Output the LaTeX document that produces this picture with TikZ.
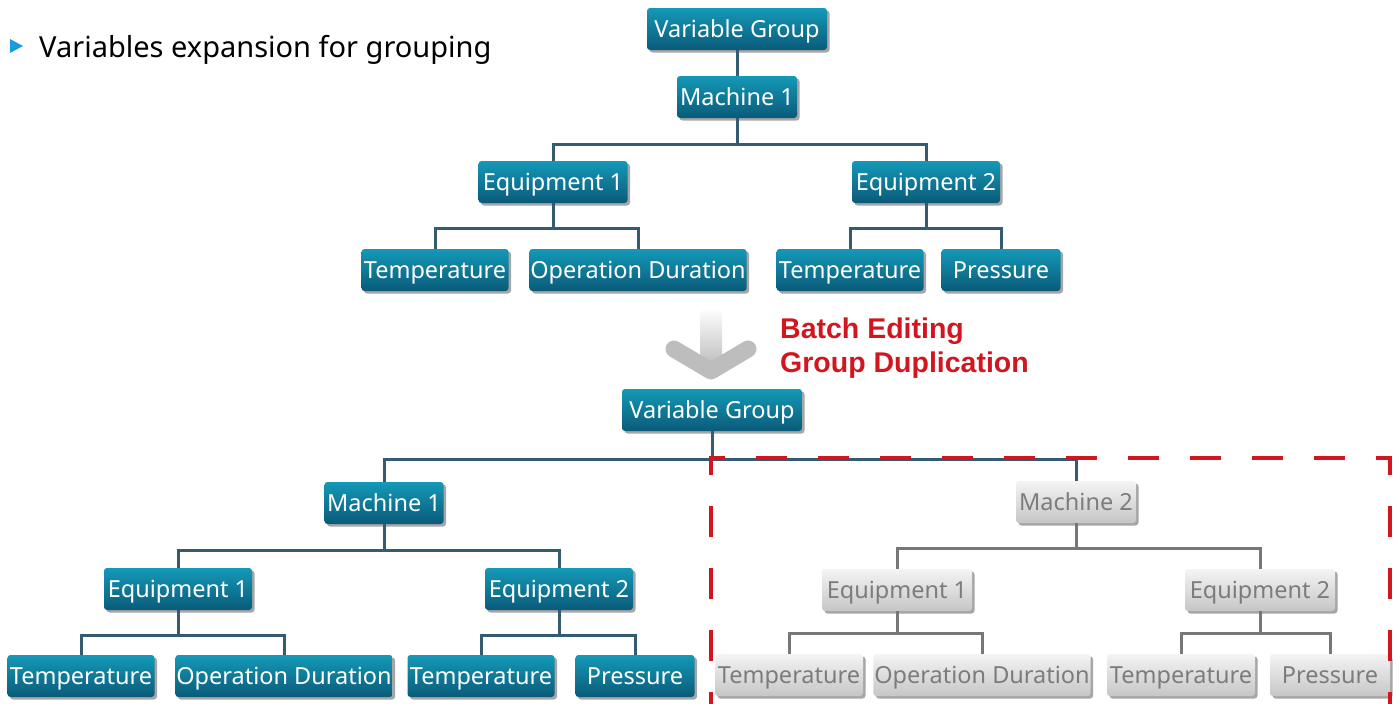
\documentclass[tikz,border=0pt]{standalone}
\usepackage{fontspec}
\setmainfont{Noto Sans}
\newfontfamily\redfont{Liberation Sans}
\usetikzlibrary{shadows}
\definecolor{boxtop}{HTML}{1499B7}
\definecolor{boxbot}{HTML}{0A5A79}
\definecolor{linec}{HTML}{355C6E}
\definecolor{greytop}{HTML}{F4F4F4}
\definecolor{greybot}{HTML}{C6C6C6}
\definecolor{greytext}{HTML}{7C7C7C}
\definecolor{greyline}{HTML}{777777}
\definecolor{redc}{HTML}{D2161F}
\definecolor{bulletc}{HTML}{1A9BE0}
\definecolor{arrowc}{HTML}{BDBDBD}
\tikzset{
  bbox/.style={rectangle, rounded corners=3pt, top color=boxtop, bottom color=boxbot,
    text=white, font=\fontsize{23.5}{27}\selectfont, minimum height=42pt, inner xsep=1pt, inner ysep=0pt,
    text height=21pt, text depth=4.5pt,
    drop shadow={shadow xshift=2.5pt, shadow yshift=-2.5pt, opacity=0.35, fill=black}},
  gbox/.style={bbox, top color=greytop, bottom color=greybot, text=greytext},
  conn/.style={draw=linec, line width=3pt},
  gconn/.style={draw=greyline, line width=3pt},
}
\begin{document}
\begin{tikzpicture}[x=1pt,y=-1pt]
\useasboundingbox (0,0) rectangle (1400,704);
% bullet
\fill[bulletc] (10,39) -- (23,46) -- (10,53) -- cycle;
\node[anchor=base west, inner sep=0pt, font=\fontsize{29}{34}\selectfont] (bullet) at (39,57) {Variables expansion for grouping};
% top tree
\node[bbox, minimum width=180pt] (vg1) at (737,29) {Variable Group};
\node[bbox, minimum width=120pt] (m1) at (737,97) {Machine 1};
\node[bbox, minimum width=149pt] (e1) at (553,182) {Equipment 1};
\node[bbox, minimum width=148pt] (e2) at (926,182) {Equipment 2};
\node[bbox, minimum width=147pt] (t1) at (435,270) {Temperature};
\node[bbox, minimum width=216pt] (od1) at (638,270) {Operation Duration};
\node[bbox, minimum width=147pt] (t2) at (850,270) {Temperature};
\node[bbox, minimum width=119pt] (p1) at (1001,270) {Pressure};
\draw[conn] (vg1.south) -- (m1.north);
\draw[conn] (m1.south) -- ++(0,26) -| (e1.north);
\draw[conn] (m1.south) -- ++(0,26) -| (e2.north);
\draw[conn] (e1.south) -- ++(0,25) -| (t1.north);
\draw[conn] (e1.south) -- ++(0,25) -| (od1.north);
\draw[conn] (e2.south) -- ++(0,25) -| (t2.north);
\draw[conn] (e2.south) -- ++(0,25) -| (p1.north);
% arrow
\shade[top color=white, bottom color=arrowc] (700,308) rectangle (722,366);
\draw[arrowc, line width=17pt, line cap=round, line join=round] (674,349) -- (711,371) -- (748,349);
\node[anchor=base west, align=left, inner sep=0pt, text=redc, font=\redfont\bfseries\fontsize{28.5}{35}\selectfont] (red) at (780,338) {Batch Editing};
\node[anchor=base west, align=left, inner sep=0pt, text=redc, font=\redfont\bfseries\fontsize{28.5}{35}\selectfont] (red2) at (780,372) {Group Duplication};
% bottom tree
\node[bbox, minimum width=180pt] (vg2) at (712,410) {Variable Group};
\node[bbox, minimum width=119pt] (m1b) at (384,503) {Machine 1};
\node[bbox, minimum width=148pt] (e1b) at (178,589) {Equipment 1};
\node[bbox, minimum width=148pt] (e2b) at (559,589) {Equipment 2};
\node[bbox, minimum width=147pt] (t1b) at (81,676) {Temperature};
\node[bbox, minimum width=214pt] (od1b) at (284,676) {Operation Duration};
\node[bbox, minimum width=147pt] (t2b) at (481,676) {Temperature};
\node[bbox, minimum width=119pt] (p1b) at (635,676) {Pressure};
\node[gbox, minimum width=120pt] (m2) at (1076,502) {Machine 2};
\node[gbox, minimum width=150pt] (e1g) at (897,590) {Equipment 1};
\node[gbox, minimum width=150pt] (e2g) at (1260,590) {Equipment 2};
\node[gbox, minimum width=148pt] (t1g) at (789,675) {Temperature};
\node[gbox, minimum width=212pt] (od1g) at (982,675) {Operation Duration};
\node[gbox, minimum width=148pt] (t2g) at (1181,675) {Temperature};
\node[gbox, minimum width=120pt] (p1g) at (1330,675) {Pressure};
\draw[conn] (vg2.south) -- ++(0,28) -| (m1b.north);
\draw[conn] (vg2.south) -- ++(0,28) -| (m2.north);
\draw[conn] (m1b.south) -- ++(0,26) -| (e1b.north);
\draw[conn] (m1b.south) -- ++(0,26) -| (e2b.north);
\draw[conn] (e1b.south) -- ++(0,25) -| (t1b.north);
\draw[conn] (e1b.south) -- ++(0,25) -| (od1b.north);
\draw[conn] (e2b.south) -- ++(0,25) -| (t2b.north);
\draw[conn] (e2b.south) -- ++(0,25) -| (p1b.north);
\draw[gconn] (m2.south) -- ++(0,25) -| (e1g.north);
\draw[gconn] (m2.south) -- ++(0,25) -| (e2g.north);
\draw[gconn] (e1g.south) -- ++(0,22) -| (t1g.north);
\draw[gconn] (e1g.south) -- ++(0,22) -| (od1g.north);
\draw[gconn] (e2g.south) -- ++(0,22) -| (t2g.north);
\draw[gconn] (e2g.south) -- ++(0,22) -| (p1g.north);
% dashed frame
\draw[redc, line width=4pt, dash pattern=on 31pt off 31pt, dash phase=11pt] (711,712) -- (711,458) -- (1390,458) -- (1390,712);
\end{tikzpicture}
\end{document}
